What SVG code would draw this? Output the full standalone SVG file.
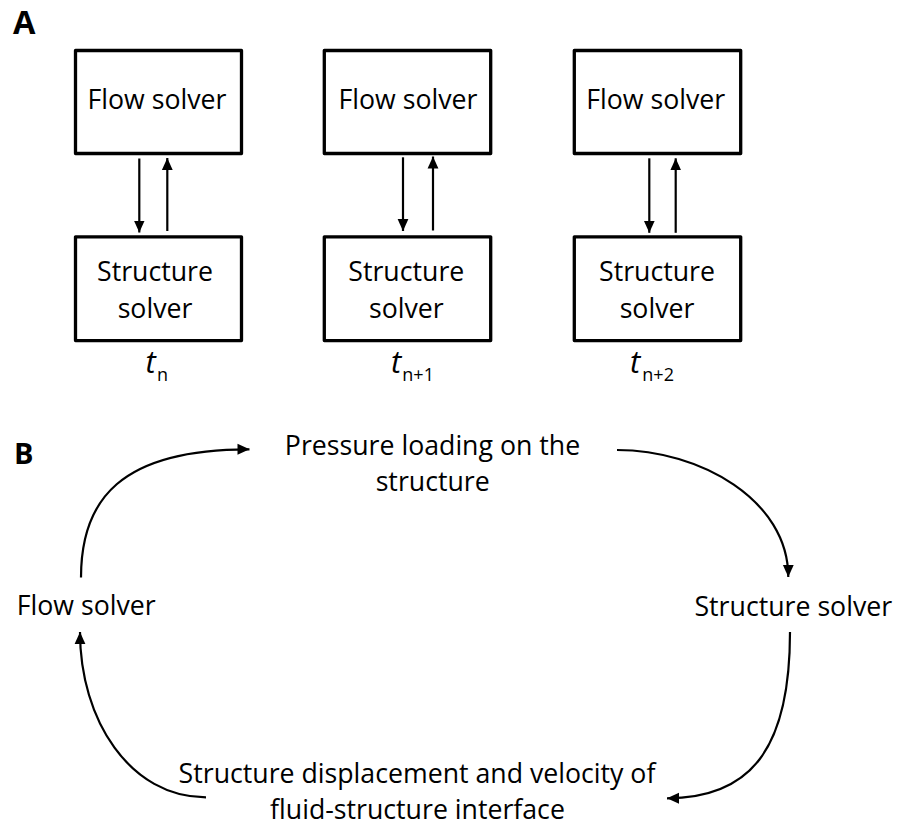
<svg xmlns="http://www.w3.org/2000/svg" width="898" height="828" viewBox="0 0 898 828">
<style>
.lbl{font-family:"Open Sans","Noto Sans","Liberation Sans",sans-serif;font-size:26.7px;fill:#000;text-anchor:middle}
.panel{font-family:"Open Sans","Liberation Sans",sans-serif;font-weight:bold;fill:#000}
.box{fill:#fff;stroke:#000;stroke-width:3.3;stroke-linejoin:round}
.tt{font-family:"Open Sans","Liberation Sans",sans-serif;fill:#000}
.conn path,.conn line{fill:none;stroke:#000;stroke-width:2.2}
</style>
<defs>
<marker id="ah" markerUnits="userSpaceOnUse" markerWidth="12" markerHeight="12" viewBox="0 0 10 10" refX="10" refY="5" orient="auto">
<path d="M0,0.5 L10,5 L0,9.5 Z" fill="#000"/>
</marker>
</defs>
<rect width="898" height="828" fill="#fff"/>

<text class="panel" x="13" y="33.5" font-size="32.5">A</text>
<text class="panel" x="14" y="463.5" font-size="29">B</text>

<g id="flow1"><rect class="box" x="75.5" y="50.5" width="166" height="103"/><text class="lbl" x="157" y="109">Flow solver</text></g>
<g id="struct1"><rect class="box" x="75.5" y="236.8" width="166" height="103.8"/><text class="lbl" x="155"><tspan x="155" y="280.5">Structure</tspan><tspan x="155" y="318">solver</tspan></text></g>
<g id="flow2"><rect class="box" x="324.3" y="50.5" width="166.4" height="103"/><text class="lbl" x="408" y="109">Flow solver</text></g>
<g id="struct2"><rect class="box" x="324.3" y="236.8" width="166.4" height="103.8"/><text class="lbl" x="406.3"><tspan x="406.3" y="280.5">Structure</tspan><tspan x="406.3" y="318">solver</tspan></text></g>
<g id="flow3"><rect class="box" x="574.3" y="50.5" width="166.4" height="103"/><text class="lbl" x="655.7" y="109">Flow solver</text></g>
<g id="struct3"><rect class="box" x="574.3" y="236.8" width="166.4" height="103.8"/><text class="lbl" x="657"><tspan x="657" y="280.5">Structure</tspan><tspan x="657" y="318">solver</tspan></text></g>

<g id="time1"><text class="tt"><tspan x="145.5" y="373" font-size="31" font-style="italic">t</tspan><tspan x="157" y="380.7" font-size="18">n</tspan></text></g>
<g id="time2"><text class="tt"><tspan x="391" y="373" font-size="31" font-style="italic">t</tspan><tspan x="402.3" y="380.7" font-size="18">n+1</tspan></text></g>
<g id="time3"><text class="tt"><tspan x="630" y="373" font-size="31" font-style="italic">t</tspan><tspan x="642.3" y="380.7" font-size="18">n+2</tspan></text></g>

<g id="pressure"><text class="lbl"><tspan x="432.5" y="454.5">Pressure loading on the</tspan><tspan x="432.7" y="491">structure</tspan></text></g>
<g id="flowB"><text class="lbl" x="86.2" y="615">Flow solver</text></g>
<g id="structB"><text class="lbl" x="793.3" y="616">Structure solver</text></g>
<g id="displacement"><text class="lbl"><tspan x="417" y="783">Structure displacement and velocity of</tspan><tspan x="417.5" y="819">fluid-structure interface</tspan></text></g>

<g id="connectors" class="conn">
<line x1="139.3" y1="158.5" x2="139.3" y2="232.5" marker-end="url(#ah)"/>
<line x1="167.3" y1="231" x2="167.3" y2="158" marker-end="url(#ah)"/>
<line x1="403" y1="157.3" x2="403" y2="231" marker-end="url(#ah)"/>
<line x1="433" y1="230.5" x2="433" y2="156.5" marker-end="url(#ah)"/>
<line x1="649.3" y1="158.3" x2="649.3" y2="232.8" marker-end="url(#ah)"/>
<line x1="675.7" y1="232.8" x2="675.7" y2="158.3" marker-end="url(#ah)"/>
<path d="M81,577.5 C81,500 120,449 249.5,449.3" marker-end="url(#ah)"/>
<path d="M617,450 C700,450 788.3,500 788.3,577" marker-end="url(#ah)"/>
<path d="M790,632 C790,750 750,798 667,798.3" marker-end="url(#ah)"/>
<path d="M206,797.3 C130,797.3 80,720 80,632" marker-end="url(#ah)"/>
</g>
</svg>
